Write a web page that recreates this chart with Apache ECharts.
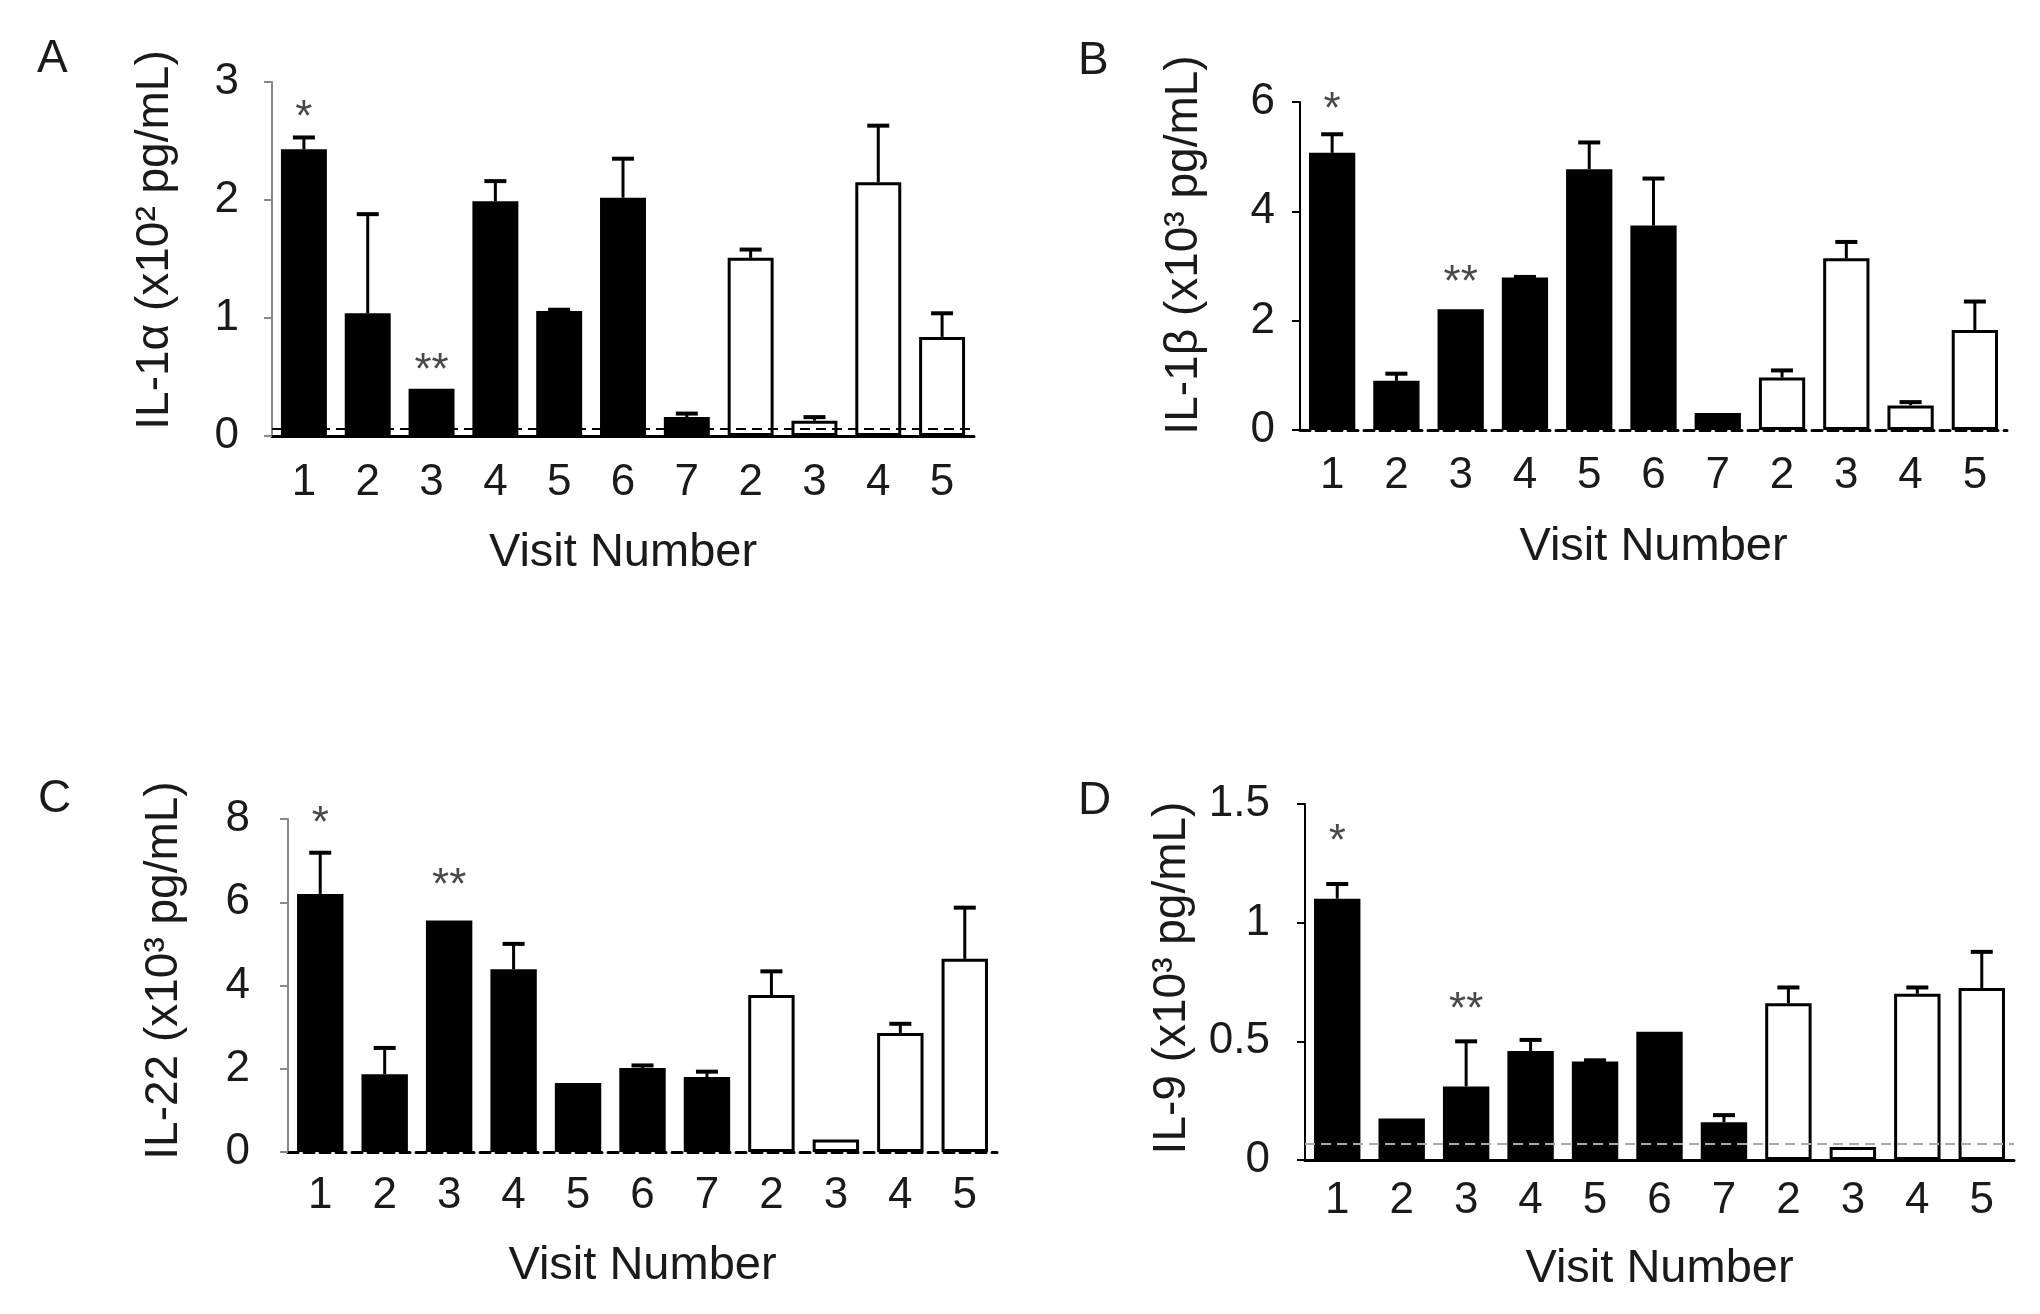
<!DOCTYPE html>
<html>
<head>
<meta charset="utf-8">
<title>Cytokine levels by visit</title>
<script src="https://cdn.jsdelivr.net/npm/echarts@6/dist/echarts.min.js"></script>
<style>
html, body { margin: 0; padding: 0; background: #fff; }
#chart { width: 2040px; height: 1314px; }
</style>
</head>
<body>
<div id="chart"></div>
<script>
// categories: visits 1-7 for the first group (filled), 2-5 for the second group (open)
var visits = ['1', '2', '3', '4', '5', '6', '7', '2', '3', '4', '5'];
var firstGroupSize = 7;

// A: IL-1a (x10^2 pg/mL)
var il1aMean = [2.43, 1.04, 0.40, 1.99, 1.06, 2.02, 0.16, 1.51, 0.13, 2.15, 0.84];
var il1aSem  = [0.10, 0.84, 0,    0.17, 0.01, 0.33, 0.03, 0.07, 0.03, 0.48, 0.20];
var il1aStars = [['*', 0, 2.77], ['**', 2, 0.63]];
var il1aLimit = 0.06;

// B: IL-1b (x10^3 pg/mL)
var il1bMean = [5.07, 0.90, 2.21, 2.79, 4.77, 3.74, 0.31, 0.96, 3.14, 0.45, 1.83];
var il1bSem  = [0.34, 0.13, 0,    0.01, 0.49, 0.86, 0,    0.13, 0.30, 0.06, 0.52];
var il1bStars = [['*', 0, 6.02], ['**', 2, 2.85]];

// C: IL-22 (x10^3 pg/mL)
var il22Mean = [6.20, 1.87, 5.56, 4.39, 1.66, 2.02, 1.80, 3.77, 0.30, 2.86, 4.64];
var il22Sem  = [0.99, 0.63, 0,    0.61, 0,    0.06, 0.13, 0.57, 0,    0.22, 1.23];
var il22Stars = [['*', 0, 8.1], ['**', 2, 6.6]];

// D: IL-9 (x10^3 pg/mL)
var il9Mean = [1.101, 0.175, 0.31, 0.459, 0.415, 0.54, 0.159, 0.66, 0.055, 0.70, 0.725];
var il9Sem  = [0.062, 0,     0.19, 0.047, 0.005, 0,    0.03,  0.067, 0,    0.027, 0.152];
var il9Stars = [['*', 0, 1.38], ['**', 2, 0.67]];
var il9Limit = 0.069;

var FONT = "'Liberation Sans', Arial, Helvetica, sans-serif";
var TXT = '#1a1a1a';

var panels = [
  { letter: 'A', letterPos: [37, 36], yName: 'IL-1α (x10² pg/mL)',
    mean: il1aMean, sem: il1aSem, stars: il1aStars, max: 3, interval: 1,
    limit: il1aLimit, limitColor: '#000',
    grid: [272, 82, 702, 354], yAxisColor: '#888', dashedAxis: false,
    yNameGap: 94, yNameShift: 38, yLabelMargin: 33, xLabelMargin: 25, xNameGap: 94 },
  { letter: 'B', letterPos: [1078, 38], yName: 'IL-1β (x10³ pg/mL)',
    mean: il1bMean, sem: il1bSem, stars: il1bStars, max: 6, interval: 2,
    limit: null, limitColor: '#000',
    grid: [1300, 102, 707, 328], yAxisColor: '#000', dashedAxis: true,
    yNameGap: 93, yNameShift: 42, yLabelMargin: 25, xLabelMargin: 24, xNameGap: 94 },
  { letter: 'C', letterPos: [38, 776], yName: 'IL-22 (x10³ pg/mL)',
    mean: il22Mean, sem: il22Sem, stars: il22Stars, max: 8, interval: 2,
    limit: null, limitColor: '#000',
    grid: [288, 819, 709, 333], yAxisColor: '#888', dashedAxis: true,
    yNameGap: 101, yNameShift: 30, yLabelMargin: 38, xLabelMargin: 22, xNameGap: 91 },
  { letter: 'D', letterPos: [1078, 778], yName: 'IL-9 (x10³ pg/mL)',
    mean: il9Mean, sem: il9Sem, stars: il9Stars, max: 1.5, interval: 0.5,
    limit: il9Limit, limitColor: '#aaa',
    grid: [1305, 804, 709, 356], yAxisColor: '#000', dashedAxis: false,
    yNameGap: 110, yNameShift: 8, yLabelMargin: 35, xLabelMargin: 19, xNameGap: 86 }
];

var myChart = echarts.init(document.getElementById('chart'));
var option = {
  animation: false,
  backgroundColor: '#fff',
  title: [],
  grid: [],
  xAxis: [],
  yAxis: [],
  series: []
};

panels.forEach(function (p, k) {
  option.title.push({
    text: p.letter, left: p.letterPos[0], top: p.letterPos[1], padding: 0,
    textStyle: { fontFamily: FONT, fontSize: 46, fontWeight: 'normal', color: TXT }
  });
  option.grid.push({ left: p.grid[0], top: p.grid[1], width: p.grid[2], height: p.grid[3] });
  option.xAxis.push({
    type: 'category', gridIndex: k, data: visits,
    name: 'Visit Number', nameLocation: 'middle', nameGap: p.xNameGap,
    nameTextStyle: { fontFamily: FONT, fontSize: 47, color: TXT },
    axisLine: { lineStyle: { color: '#000', width: 3, type: p.dashedAxis ? [10, 6] : 'solid' } },
    axisTick: { alignWithLabel: true, length: 10, lineStyle: { color: '#000', width: 2 } },
    axisLabel: { margin: p.xLabelMargin, fontFamily: FONT, fontSize: 44, color: TXT }
  });
  option.yAxis.push({
    type: 'value', gridIndex: k, min: 0, max: p.max, interval: p.interval,
    name: p.yName, nameLocation: 'middle', nameRotate: 90, nameGap: p.yNameGap,
    nameTextStyle: { fontFamily: FONT, fontSize: 46, color: TXT, padding: [0, 0, 0, p.yNameShift] },
    splitLine: { show: false },
    axisLine: { show: true, lineStyle: { color: p.yAxisColor, width: 2 } },
    axisTick: { show: true, length: 8, lineStyle: { color: p.yAxisColor, width: 2 } },
    axisLabel: { margin: p.yLabelMargin, fontFamily: FONT, fontSize: 44, color: TXT }
  });

  var bar = {
    type: 'bar', xAxisIndex: k, yAxisIndex: k, barWidth: '72%', z: 2,
    data: p.mean.map(function (v, i) {
      return {
        value: v,
        itemStyle: i < firstGroupSize
          ? { color: '#000' }
          : { color: '#fff', borderColor: '#000', borderWidth: 3 }
      };
    })
  };
  if (p.limit !== null) {
    bar.markLine = {
      silent: true, symbol: 'none', label: { show: false },
      lineStyle: { color: p.limitColor, type: [10, 6], width: 2 },
      data: [{ yAxis: p.limit }]
    };
  }
  option.series.push(bar);

  // upper error bars (mean + SEM)
  option.series.push({
    type: 'custom', xAxisIndex: k, yAxisIndex: k, z: 3, clip: false,
    data: p.mean.map(function (v, i) { return [i, v, v + p.sem[i]]; }),
    renderItem: function (params, api) {
      var base = api.coord([api.value(0), api.value(1)]);
      var top = api.coord([api.value(0), api.value(2)]);
      if (base[1] - top[1] < 0.5) return;
      var half = 11;
      return {
        type: 'group',
        children: [
          { type: 'line', shape: { x1: base[0], y1: base[1], x2: top[0], y2: top[1] },
            style: { stroke: '#000', lineWidth: 3 } },
          { type: 'line', shape: { x1: top[0] - half, y1: top[1], x2: top[0] + half, y2: top[1] },
            style: { stroke: '#000', lineWidth: 4 } }
        ]
      };
    }
  });

  // significance marks
  option.series.push({
    type: 'scatter', xAxisIndex: k, yAxisIndex: k, z: 4, clip: false,
    symbolSize: 1, itemStyle: { color: 'rgba(0,0,0,0)' },
    data: p.stars.map(function (s) { return { name: s[0], value: [s[1], s[2]] }; }),
    label: {
      show: true, position: 'inside', formatter: '{b}', offset: [0, 10],
      fontFamily: FONT, fontSize: 44, color: TXT
    }
  });
});

myChart.setOption(option);
</script>
</body>
</html>
